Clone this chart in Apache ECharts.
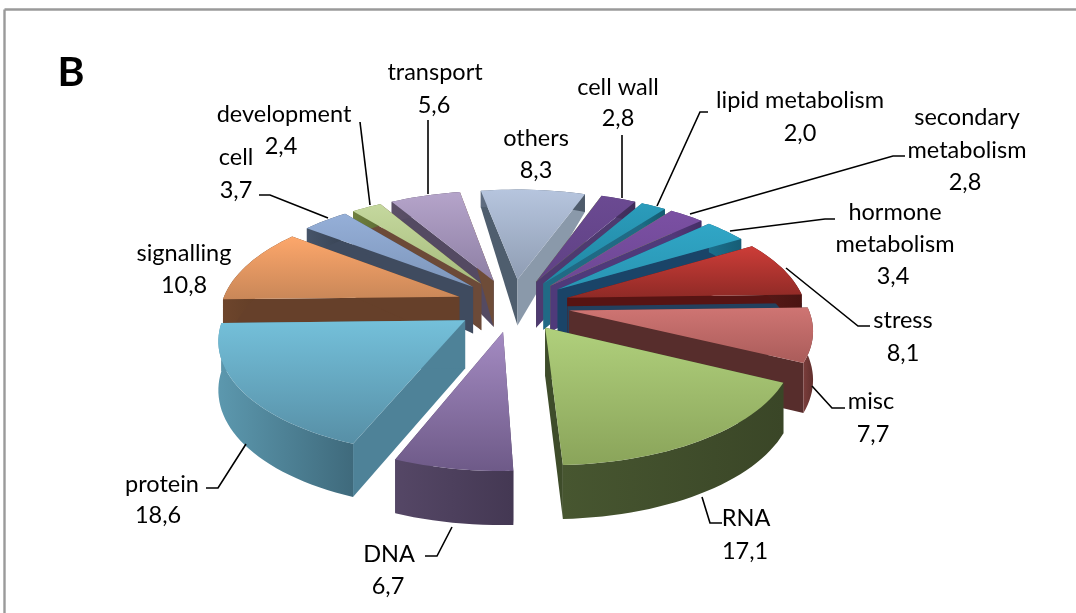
<!DOCTYPE html>
<html><head><meta charset="utf-8">
<style>html,body{margin:0;padding:0;background:#fff}#c{width:1076px;height:613px;filter:blur(0.4px)}</style>
<script src="https://cdn.jsdelivr.net/npm/echarts@6/dist/echarts.min.js"></script>
</head><body><div id="c"></div>
<script>
// ---- data ----
const categories = ['others','cell wall','lipid metabolism','secondary metabolism','hormone metabolism','stress','misc','RNA','DNA','protein','signalling','cell','development','transport'];
const values = [8.3,2.8,2.0,2.8,3.4,8.1,7.7,17.1,6.7,18.6,10.8,3.7,2.4,5.6];
const valueLabels = ['8,3','2,8','2,0','2,8','3,4','8,1','7,7','17,1','6,7','18,6','10,8','3,7','2,4','5,6'];
// ---- styles: top light, top dark, start wall, end wall, outer wall light, outer wall dark ----
const topLight = ['#b6c5de','#6b4a92','#2b9cbb','#7b50a3','#30a6c6','#cd3d38','#cf7573','#b0d07c','#a48bc2','#74c0da','#fda76b','#95afd8','#c5d89e','#b5a4ca'];
const topDark  = ['#8f9db3','#5f4184','#2088a4','#6d4794','#2995b3','#8f2a26','#aa5c5a','#8aa45a','#6e5a88','#578fa6','#c98758','#7d96bb','#a6bc7c','#8d7fa4'];
const wallStart = ['#4f5e6e','#6f9128','#2a6f8a','#7f9a30','#1c4f72','#571413','#572d2c','#3e4c2a','#504360','#4e8298','#66402a','#3f4b5f','#6c4a38','#544a62'];
const wallEnd   = ['#8a99aa','#4e3a70','#206a85','#4f3a7a','#1a4468','#571413','#572d2c','#3e4c2a','#504360','#4e8298','#66402a','#3f4b5f','#6c4a38','#6e4c38'];
const outerL = ['#5f6d80','#4a3468','#1a6c84','#53387a','#1b6f8c','#5b1a18','#7a3d3b','#475630','#554766','#5c98ae','#6d452c','#465469','#70803f','#5c5068'];
const outerD = ['#4d5a6a','#3e2c58','#155b70','#452e66','#165d76','#4a1412','#612f2d','#3a4627','#443853','#3f6a7c','#5a3823','#384354','#5e6c35','#4a4056'];
// ---- label layout: [text lines with centre x,y], leader polyline ----
const labelLines = [
 [['others',536,138],['8,3',536,170]],
 [['cell wall',618,87],['2,8',618,118]],
 [['lipid metabolism',800,100],['2,0',800,133]],
 [['secondary',967,117],['metabolism',967,150],['2,8',965,182]],
 [['hormone',895,212],['metabolism',895,244],['3,4',893,276]],
 [['stress',903,320],['8,1',903,353]],
 [['misc',871,401],['7,7',873,434]],
 [['RNA',746,518],['17,1',745,551]],
 [['DNA',389,554],['6,7',388,586]],
 [['protein',162,484],['18,6',158,515]],
 [['signalling',184,253],['10,8',184,285]],
 [['cell',236,157],['3,7',236,190]],
 [['development',284,114],['2,4',281,146]],
 [['transport',435,72],['5,6',434,105]]
];
const leaders = [
 null,
 [[622,198],[622,135]],
 [[657,206],[700,112],[708,112]],
 [[690,214],[893,156],[905,156]],
 [[730,231],[825,219],[835,219]],
 [[786,268],[858,326],[870,326]],
 [[812,386],[832,408],[845,408]],
 [[702,497],[710,523],[722,523]],
 [[452,527],[437,556],[425,556]],
 [[246,444],[218,488],[206,488]],
 null,
 [[328,218],[270,195],[259,195]],
 [[370,205],[360,122]],
 [[428,194],[428,120]]
];
// ---- projection ----
const cx=513, cy=305, A=238, B=110, K=0.146, EXPL=0.24, START=-10.3;
const FONT='Lato, "Open Sans", sans-serif';
function depth(Y){ return Y>0.24 ? 46-(Y-0.24)*30 : 46+(0.24-Y)*5.5; }
function proj(X,Y,drop){
  const s=1/(1+K*Y);
  return [cx+A*X*s, cy-B*Y*s+(drop?depth(Y)*drop:0)];
}
const total=values.reduce((a,b)=>a+b,0);
const spans=[];let acc=0;
values.forEach(v=>{const a0=START+acc/total*360;acc+=v;spans.push([a0,START+acc/total*360]);});
const rad=d=>d*Math.PI/180;
function renderSlice(params,api){
  const i=api.value(0);
  const [a0,a1]=spans[i];
  const mid=rad((a0+a1)/2);
  const ox=EXPL*Math.sin(mid), oy=EXPL*Math.cos(mid);
  const arcPts=[],n=Math.max(8,Math.round((a1-a0)/2));
  for(let k=0;k<=n;k++){const t=rad(a0+(a1-a0)*k/n);arcPts.push([ox+Math.sin(t),oy+Math.cos(t)]);}
  const top=arcPts.map(p=>proj(p[0],p[1],0));
  const bot=arcPts.map(p=>proj(p[0],p[1],1));
  const ap=proj(ox,oy,0), apB=proj(ox,oy,1);
  const base=Math.round((1-Math.cos(mid))*100);
  const vgrad=new echarts.graphic.LinearGradient(0,0,0,1,[{offset:0,color:topLight[i]},{offset:1,color:topDark[i]}]);
  const hgrad=new echarts.graphic.LinearGradient(0,0,1,0,[{offset:0,color:outerL[i]},{offset:1,color:outerD[i]}]);
  const kids=[];
  kids.push({type:'polygon',z2:base,shape:{points:[ap,top[0],bot[0],apB]},style:{fill:wallStart[i]}});
  kids.push({type:'polygon',z2:base,shape:{points:[ap,top[n],bot[n],apB]},style:{fill:wallEnd[i]}});
  if(categories[i]==='stress'){
    const e=arcPts[n], pa=proj(ox,oy,0.18), pb=proj(e[0],e[1],0.18);
    kids.push({type:'polygon',z2:base,shape:{points:[pa,pb,bot[n],apB]},style:{fill:'#23405e'}});
  }
  kids.push({type:'polygon',z2:base+1,shape:{points:top.concat(bot.slice().reverse())},style:{fill:hgrad}});
  kids.push({type:'polygon',z2:base+2,shape:{points:[ap].concat(top)},style:{fill:vgrad}});
  return {type:'group',children:kids};
}
function renderLabel(params,api){
  const i=api.value(0);
  const kids=labelLines[i].map(l=>({type:'text',z2:300,style:{text:l[0],x:l[1],y:l[2],align:'center',verticalAlign:'middle',font:'23.5px '+FONT,fill:'#000'}}));
  if(leaders[i])kids.push({type:'polyline',z2:299,shape:{points:leaders[i]},style:{fill:'none',stroke:'#000',lineWidth:1.6}});
  return {type:'group',children:kids};
}
const rows=values.map((v,i)=>[i,v,categories[i],valueLabels[i]]);
const chart=echarts.init(document.getElementById('c'),null,{renderer:'canvas'});
chart.setOption({
  animation:false,
  backgroundColor:'#fff',
  graphic:[
    {type:'line',z:0,shape:{x1:4.5,y1:9.5,x2:1076,y2:9.5},style:{stroke:'#9a9a9a',lineWidth:2.4}},
    {type:'line',z:0,shape:{x1:4.5,y1:9.5,x2:4.5,y2:613},style:{stroke:'#9a9a9a',lineWidth:2.4}},
    {type:'text',z:5,style:{text:'B',x:71,y:73,align:'center',verticalAlign:'middle',font:'bold 41px '+FONT,fill:'#000'}}
  ],
  series:[
    {type:'custom',coordinateSystem:'none',renderItem:renderSlice,data:rows,z:2,silent:true},
    {type:'custom',coordinateSystem:'none',renderItem:renderLabel,data:rows,z:3,silent:true}
  ]
});
</script></body></html>
